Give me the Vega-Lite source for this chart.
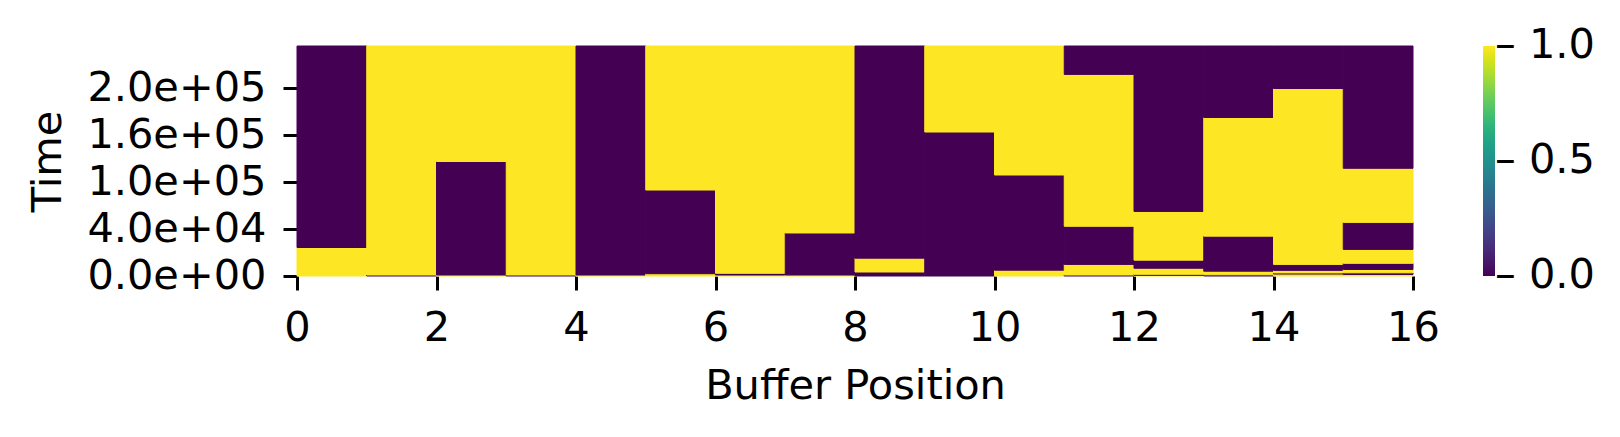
{
  "$schema": "https://vega.github.io/schema/vega-lite/v6.json",
  "autosize": {"type": "none"},
  "padding": {"left": 297, "top": 46, "right": 207, "bottom": 161},
  "width": 1116,
  "height": 230,
  "background": "white",
  "config": {
    "font": "DejaVu Sans",
    "view": {"stroke": null},
    "axis": {"labelFont": "DejaVu Sans", "titleFont": "DejaVu Sans", "labelFontSize": 41.5, "titleFontSize": 41.5, "titleFontWeight": "normal", "labelColor": "black", "titleColor": "black", "tickColor": "black", "tickSize": 14, "tickWidth": 3, "domain": false, "grid": false},
    "legend": {"labelFont": "DejaVu Sans", "labelFontSize": 41.5, "labelColor": "black"}
  },
  "data": {
    "values": [
      {"pos": 0, "pos_end": 1, "t_start": 0, "t_end": 24300, "occupied": 1},
      {"pos": 0, "pos_end": 1, "t_start": 24300, "t_end": 236000, "occupied": 0},
      {"pos": 1, "pos_end": 2, "t_start": 0, "t_end": 850, "occupied": 0},
      {"pos": 1, "pos_end": 2, "t_start": 850, "t_end": 236000, "occupied": 1},
      {"pos": 2, "pos_end": 3, "t_start": 0, "t_end": 850, "occupied": 1},
      {"pos": 2, "pos_end": 3, "t_start": 850, "t_end": 126500, "occupied": 0},
      {"pos": 2, "pos_end": 3, "t_start": 126500, "t_end": 236000, "occupied": 1},
      {"pos": 3, "pos_end": 4, "t_start": 0, "t_end": 850, "occupied": 0},
      {"pos": 3, "pos_end": 4, "t_start": 850, "t_end": 236000, "occupied": 1},
      {"pos": 4, "pos_end": 5, "t_start": 0, "t_end": 850, "occupied": 1},
      {"pos": 4, "pos_end": 5, "t_start": 850, "t_end": 236000, "occupied": 0},
      {"pos": 5, "pos_end": 6, "t_start": 0, "t_end": 1960, "occupied": 1},
      {"pos": 5, "pos_end": 6, "t_start": 1960, "t_end": 90000, "occupied": 0},
      {"pos": 5, "pos_end": 6, "t_start": 90000, "t_end": 236000, "occupied": 1},
      {"pos": 6, "pos_end": 7, "t_start": 0, "t_end": 850, "occupied": 1},
      {"pos": 6, "pos_end": 7, "t_start": 850, "t_end": 2300, "occupied": 0},
      {"pos": 6, "pos_end": 7, "t_start": 2300, "t_end": 236000, "occupied": 1},
      {"pos": 7, "pos_end": 8, "t_start": 0, "t_end": 850, "occupied": 1},
      {"pos": 7, "pos_end": 8, "t_start": 850, "t_end": 36700, "occupied": 0},
      {"pos": 7, "pos_end": 8, "t_start": 36700, "t_end": 236000, "occupied": 1},
      {"pos": 8, "pos_end": 9, "t_start": 0, "t_end": 3400, "occupied": 0},
      {"pos": 8, "pos_end": 9, "t_start": 3400, "t_end": 15200, "occupied": 1},
      {"pos": 8, "pos_end": 9, "t_start": 15200, "t_end": 236000, "occupied": 0},
      {"pos": 9, "pos_end": 10, "t_start": 0, "t_end": 162800, "occupied": 0},
      {"pos": 9, "pos_end": 10, "t_start": 162800, "t_end": 236000, "occupied": 1},
      {"pos": 10, "pos_end": 11, "t_start": 0, "t_end": 4950, "occupied": 1},
      {"pos": 10, "pos_end": 11, "t_start": 4950, "t_end": 109200, "occupied": 0},
      {"pos": 10, "pos_end": 11, "t_start": 109200, "t_end": 236000, "occupied": 1},
      {"pos": 11, "pos_end": 12, "t_start": 0, "t_end": 850, "occupied": 0},
      {"pos": 11, "pos_end": 12, "t_start": 850, "t_end": 9900, "occupied": 1},
      {"pos": 11, "pos_end": 12, "t_start": 9900, "t_end": 43600, "occupied": 0},
      {"pos": 11, "pos_end": 12, "t_start": 43600, "t_end": 211900, "occupied": 1},
      {"pos": 11, "pos_end": 12, "t_start": 211900, "t_end": 236000, "occupied": 0},
      {"pos": 12, "pos_end": 13, "t_start": 0, "t_end": 600, "occupied": 1},
      {"pos": 12, "pos_end": 13, "t_start": 600, "t_end": 1450, "occupied": 0},
      {"pos": 12, "pos_end": 13, "t_start": 1450, "t_end": 6600, "occupied": 1},
      {"pos": 12, "pos_end": 13, "t_start": 6600, "t_end": 13500, "occupied": 0},
      {"pos": 12, "pos_end": 13, "t_start": 13500, "t_end": 62600, "occupied": 1},
      {"pos": 12, "pos_end": 13, "t_start": 62600, "t_end": 236000, "occupied": 0},
      {"pos": 13, "pos_end": 14, "t_start": 0, "t_end": 1000, "occupied": 0},
      {"pos": 13, "pos_end": 14, "t_start": 1000, "t_end": 4100, "occupied": 1},
      {"pos": 13, "pos_end": 14, "t_start": 4100, "t_end": 34000, "occupied": 0},
      {"pos": 13, "pos_end": 14, "t_start": 34000, "t_end": 175200, "occupied": 1},
      {"pos": 13, "pos_end": 14, "t_start": 175200, "t_end": 236000, "occupied": 0},
      {"pos": 14, "pos_end": 15, "t_start": 0, "t_end": 1700, "occupied": 1},
      {"pos": 14, "pos_end": 15, "t_start": 1700, "t_end": 2600, "occupied": 0},
      {"pos": 14, "pos_end": 15, "t_start": 2600, "t_end": 4800, "occupied": 1},
      {"pos": 14, "pos_end": 15, "t_start": 4800, "t_end": 9900, "occupied": 0},
      {"pos": 14, "pos_end": 15, "t_start": 9900, "t_end": 199900, "occupied": 1},
      {"pos": 14, "pos_end": 15, "t_start": 199900, "t_end": 236000, "occupied": 0},
      {"pos": 15, "pos_end": 16, "t_start": 0, "t_end": 1300, "occupied": 1},
      {"pos": 15, "pos_end": 16, "t_start": 1300, "t_end": 2700, "occupied": 0},
      {"pos": 15, "pos_end": 16, "t_start": 2700, "t_end": 5600, "occupied": 1},
      {"pos": 15, "pos_end": 16, "t_start": 5600, "t_end": 10800, "occupied": 0},
      {"pos": 15, "pos_end": 16, "t_start": 10800, "t_end": 22700, "occupied": 1},
      {"pos": 15, "pos_end": 16, "t_start": 22700, "t_end": 48600, "occupied": 0},
      {"pos": 15, "pos_end": 16, "t_start": 48600, "t_end": 117800, "occupied": 1},
      {"pos": 15, "pos_end": 16, "t_start": 117800, "t_end": 236000, "occupied": 0}
    ]
  },
  "mark": {"type": "rect", "strokeWidth": 1, "stroke": {"expr": "scale('color', datum.occupied)"}},
  "encoding": {
    "x": {
      "field": "pos", "type": "quantitative",
      "scale": {"domain": [0, 16], "nice": false, "zero": false},
      "axis": {"values": [0, 2, 4, 6, 8, 10, 12, 14, 16], "format": "d", "labelPadding": 17, "title": "Buffer Position", "titlePadding": 17, "labelFlush": false}
    },
    "x2": {"field": "pos_end"},
    "y": {
      "field": "t_start", "type": "quantitative",
      "scale": {"type": "linear", "domain": [0, 40000, 100000, 160000, 200000, 236000], "range": [230, 183.1, 136.2, 89.3, 42.4, 0], "nice": false, "zero": false},
      "axis": {"values": [0, 40000, 100000, 160000, 200000], "labelExpr": "replace(format(datum.value, '.1e'), 'e+', 'e+0')", "labelPadding": 17, "title": "Time", "titlePadding": 28, "labelFlush": false}
    },
    "y2": {"field": "t_end"},
    "color": {
      "field": "occupied", "type": "quantitative",
      "scale": {"scheme": "viridis", "domain": [-0.0001, 1.0001], "nice": false, "zero": false},
      "legend": {"type": "gradient", "orient": "none", "legendX": 1186, "legendY": 0, "direction": "vertical", "title": null, "gradientLength": 230, "gradientThickness": 12, "gradientStrokeWidth": 0, "values": [0, 0.5, 1], "labelExpr": "'\u2013 ' + format(datum.value, '.1f')", "labelOffset": 0, "labelBaseline": "middle", "padding": 0, "offset": 0}
    }
  }
}
